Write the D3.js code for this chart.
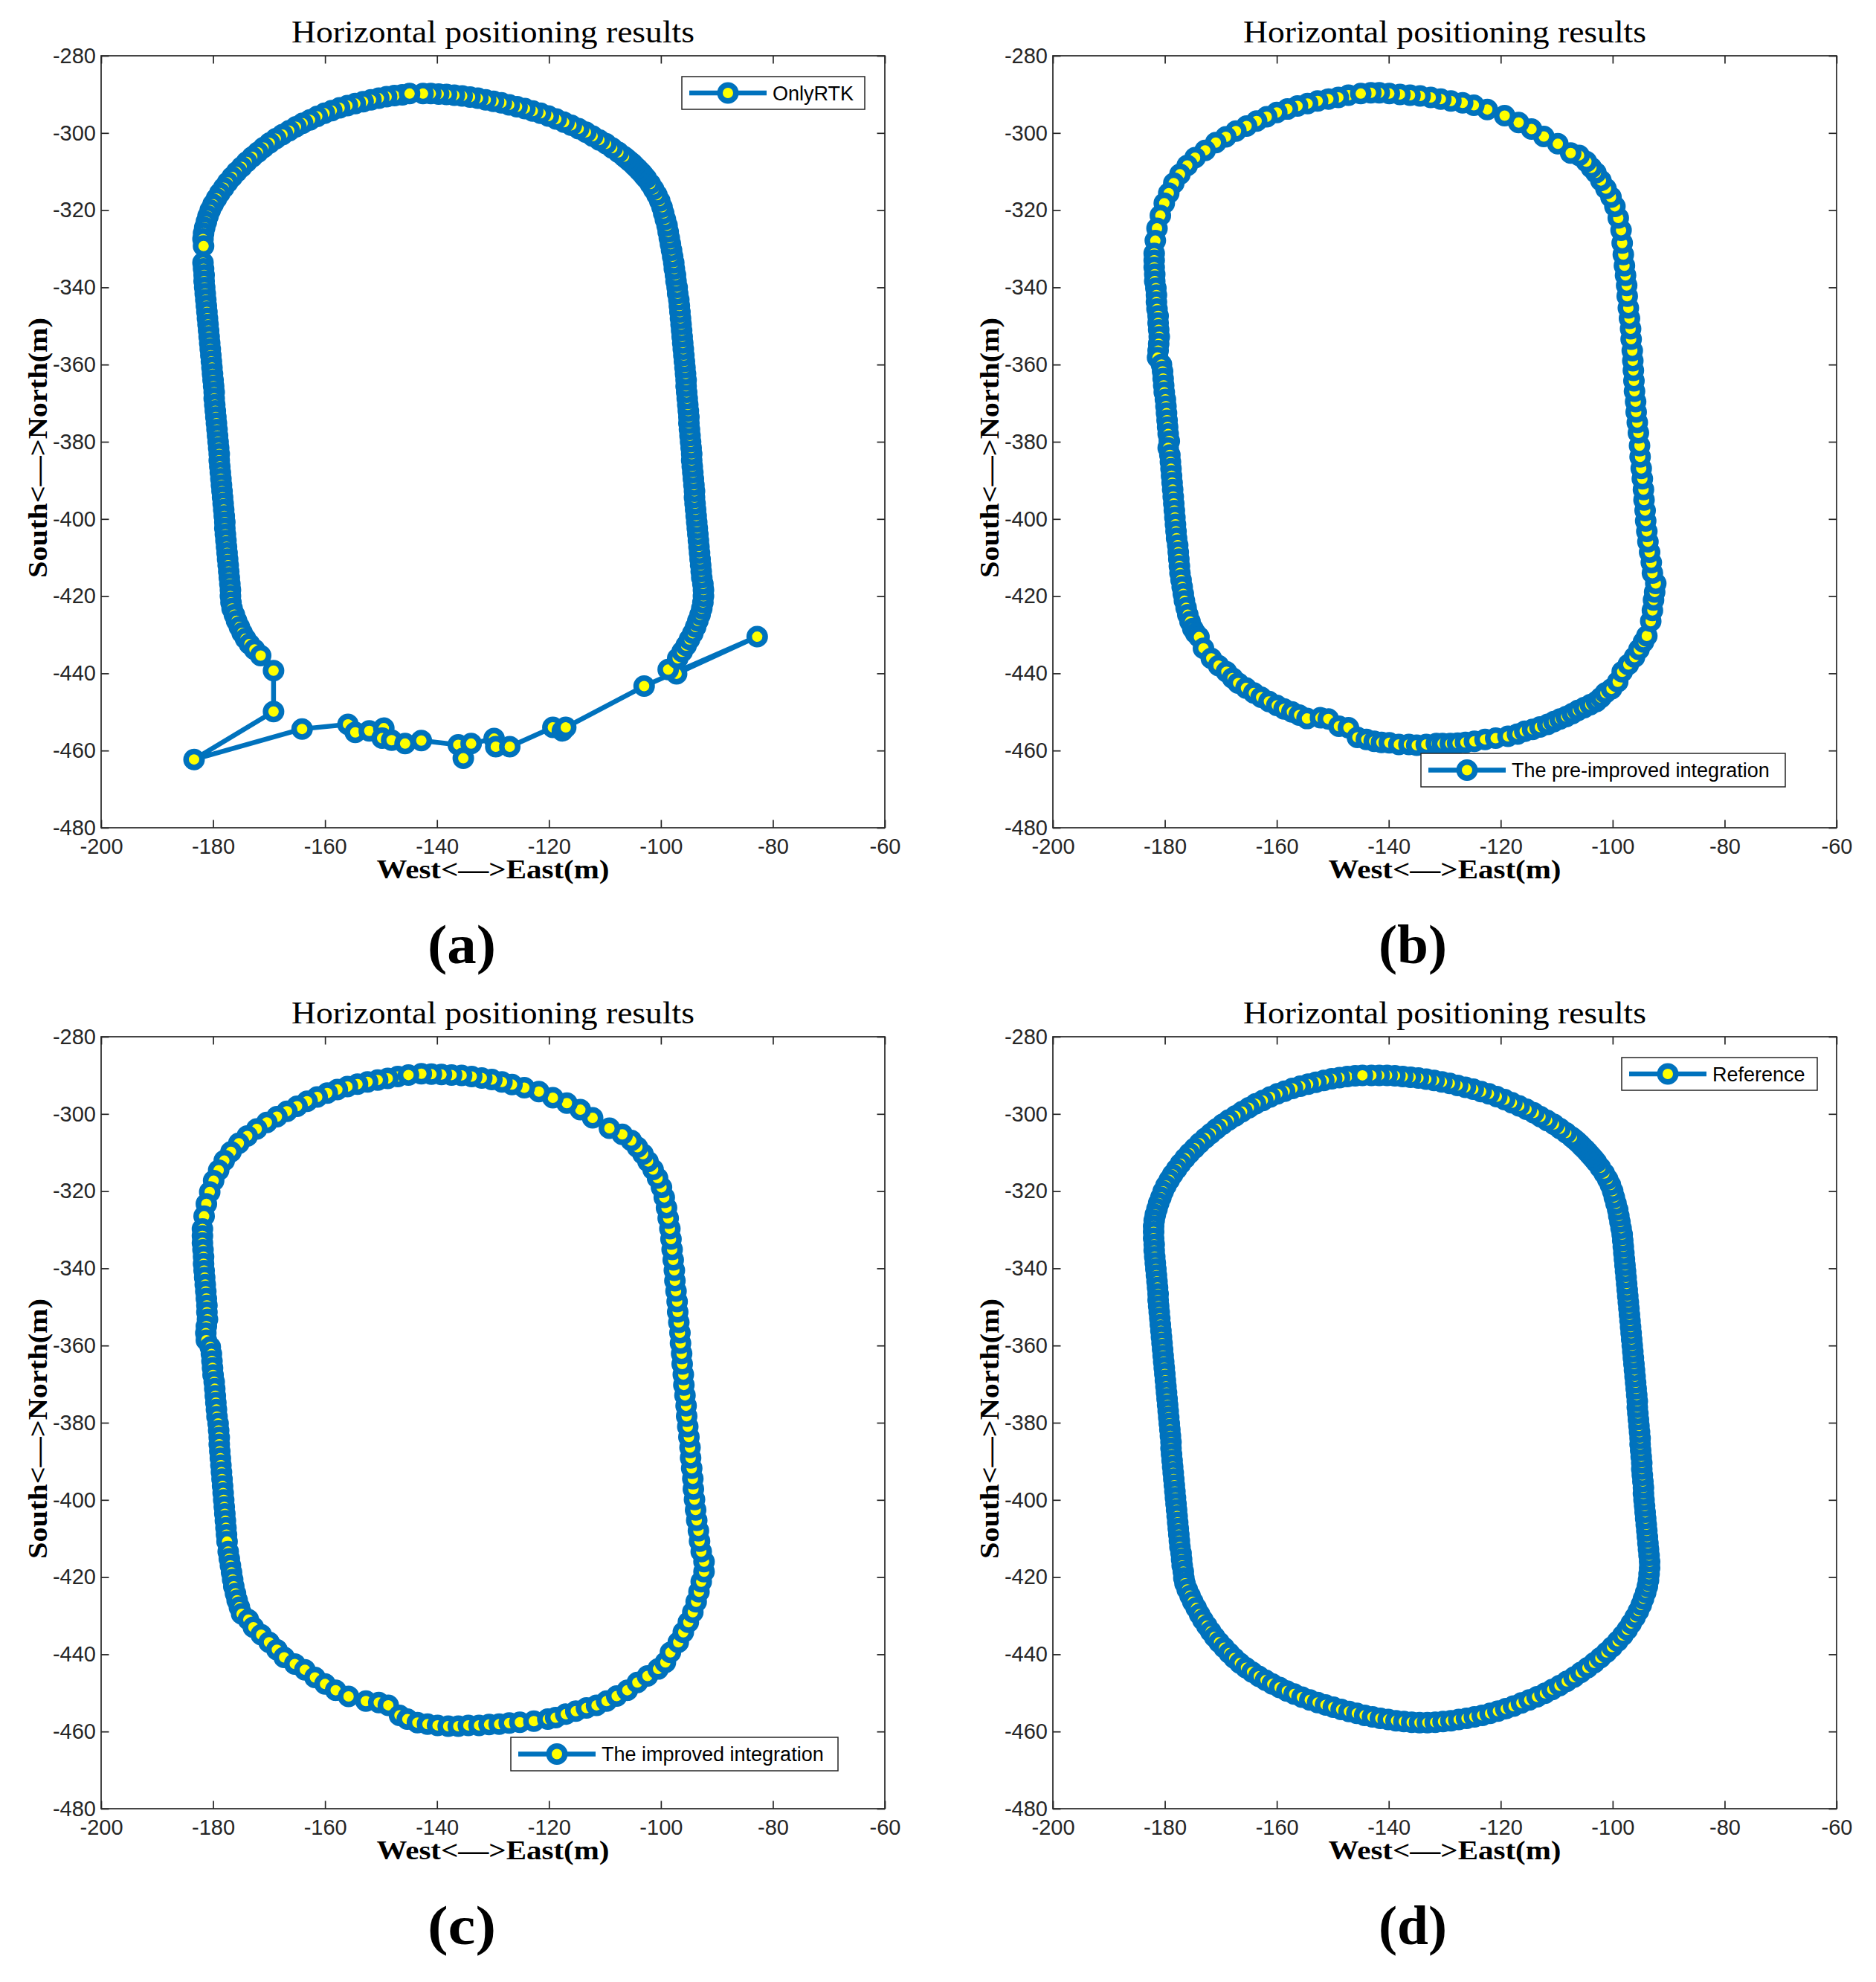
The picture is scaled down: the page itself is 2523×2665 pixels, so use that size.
<!DOCTYPE html>
<html><head><meta charset="utf-8">
<script src="https://cdn.jsdelivr.net/npm/d3@7"></script>
<style>html,body{margin:0;padding:0;background:#fff}</style>
</head><body>
<svg id="fig" width="2523" height="2665" xmlns="http://www.w3.org/2000/svg"></svg>
<script>
// ---------- data ----------
const xTicks = [-200,-180,-160,-140,-120,-100,-80,-60];
const yTicks = [-280,-300,-320,-340,-360,-380,-400,-420,-440,-460,-480];
const xDomain = [-200,-60];
const yDomain = [-480,-280];
const panelTitle = "Horizontal positioning results";
const xLabelText = "West<\u2014>East(m)";
const yLabelText = "South<\u2014>North(m)";
const legendLabels = ["OnlyRTK","The pre-improved integration","The improved integration","Reference"];
const panelLabels = ["(a)","(b)","(c)","(d)"];

const onlyRTK = [
[-146.2,-290.1],[-147.6,-290.3],[-149.0,-290.6],[-150.4,-291.0],[-151.8,-291.4],[-153.2,-291.9],[-154.6,-292.4],[-156.0,-292.9],[-157.4,-293.5],[-158.8,-294.2],[-160.1,-294.9],[-161.4,-295.7],[-162.7,-296.6],[-164.0,-297.5],[-165.2,-298.4],[-166.4,-299.4],[-167.6,-300.4],[-168.8,-301.5],[-169.9,-302.6],[-171.0,-303.8],[-172.0,-305.0],[-173.0,-306.2],[-174.0,-307.5],[-174.9,-308.8],[-175.8,-310.1],[-176.6,-311.4],[-177.4,-312.8],[-178.1,-314.2],[-178.8,-315.6],[-179.4,-317.0],[-180.0,-318.5],[-180.5,-320.0],[-180.9,-321.5],[-181.2,-323.0],[-181.5,-324.5],[-181.7,-326.0],[-181.8,-327.5],[-181.7,-329.3],
[-181.8,-333.6],[-181.7,-335.2],[-181.6,-336.8],[-181.6,-338.4],[-181.5,-340.0],[-181.4,-341.6],[-181.3,-343.2],[-181.2,-344.8],[-181.1,-346.4],[-181.0,-348.0],[-180.9,-349.6],[-180.8,-351.2],[-180.7,-352.8],[-180.6,-354.4],[-180.5,-356.0],[-180.4,-357.6],[-180.3,-359.2],[-180.2,-360.8],[-180.1,-362.4],[-180.0,-364.0],[-179.9,-365.6],[-179.8,-367.2],[-179.8,-368.8],[-179.7,-370.4],[-179.6,-372.0],[-179.5,-373.6],[-179.4,-375.2],[-179.3,-376.8],[-179.2,-378.4],[-179.1,-380.0],[-179.0,-381.6],[-178.9,-383.2],[-178.9,-384.8],[-178.8,-386.4],[-178.7,-388.0],[-178.6,-389.6],[-178.5,-391.2],[-178.4,-392.8],[-178.3,-394.4],[-178.2,-396.0],[-178.1,-397.6],[-178.0,-399.2],[-177.9,-400.8],[-177.9,-402.4],[-177.8,-404.0],[-177.7,-405.6],[-177.6,-407.2],[-177.5,-408.8],[-177.4,-410.4],[-177.3,-412.0],[-177.2,-413.6],[-177.1,-415.2],[-177.0,-416.8],[-176.9,-418.4],[-176.9,-420.0],
[-176.8,-421.6],[-176.6,-423.2],[-176.2,-424.8],[-175.8,-426.4],[-175.3,-428.0],[-174.8,-429.5],[-174.2,-431.0],[-173.5,-432.4],[-172.6,-433.8],[-171.5,-435.4],[-169.2,-439.3],[-169.2,-449.9],[-183.4,-462.3],[-164.1,-454.4],[-155.9,-453.2],[-154.6,-455.3],[-152.1,-454.9],[-149.5,-454.2],[-149.8,-456.8],[-148.1,-457.3],[-145.7,-458.2],[-142.8,-457.4],[-136.2,-458.5],[-135.3,-462.0],[-133.9,-458.2],[-129.8,-456.9],[-129.5,-459.0],[-127.0,-459.0],[-119.3,-454.0],[-117.6,-454.9],[-117.0,-454.0],[-103.0,-443.3],[-82.8,-430.5],[-97.2,-440.1],[-98.7,-439.0],[-97.0,-436.1],
[-96.2,-434.4],[-95.5,-432.8],[-94.9,-431.2],[-94.3,-429.6],[-93.8,-428.0],[-93.4,-426.4],[-93.0,-424.8],[-92.7,-423.2],[-92.5,-421.6],[-92.4,-420.0],[-92.4,-418.4],[-92.5,-416.8],[-92.7,-415.2],[-92.8,-413.6],[-92.9,-412.0],[-93.0,-410.4],[-93.1,-408.8],[-93.2,-407.2],[-93.3,-405.6],[-93.4,-404.0],[-93.5,-402.4],[-93.6,-400.8],[-93.7,-399.2],[-93.8,-397.6],[-93.9,-396.0],[-94.0,-394.4],[-94.0,-392.8],[-94.1,-391.2],[-94.2,-389.6],[-94.3,-388.0],[-94.4,-386.4],[-94.5,-384.8],[-94.5,-383.2],[-94.6,-381.6],[-94.7,-380.0],[-94.8,-378.4],[-94.9,-376.8],[-95.0,-375.2],[-95.0,-373.6],[-95.1,-372.0],[-95.2,-370.4],[-95.3,-368.8],[-95.4,-367.2],[-95.5,-365.6],[-95.5,-364.0],[-95.6,-362.4],[-95.7,-360.8],[-95.8,-359.2],[-95.9,-357.6],[-96.0,-356.0],[-96.1,-354.4],[-96.2,-352.8],[-96.3,-351.2],[-96.4,-349.6],[-96.5,-348.0],[-96.6,-346.4],[-96.7,-344.8],[-96.8,-343.2],[-97.0,-341.6],[-97.1,-340.0],[-97.3,-338.4],[-97.4,-336.8],[-97.6,-335.2],[-97.7,-333.6],[-97.9,-332.0],[-98.1,-330.4],[-98.3,-328.8],[-98.5,-327.2],[-98.7,-325.6],[-98.9,-324.0],[-99.2,-322.4],[-99.5,-320.8],[-99.8,-319.2],
[-100.2,-317.6],[-100.7,-316.1],[-101.3,-314.6],[-101.9,-313.2],[-102.6,-311.8],[-103.0,-311.1],[-103.4,-310.4],[-103.8,-309.8],[-104.2,-309.2],[-104.7,-308.5],[-105.1,-307.9],[-105.6,-307.3],[-106.1,-306.7],[-106.6,-306.1],[-107.6,-305.0],[-108.7,-303.9],[-109.8,-302.8],[-111.0,-301.8],[-112.2,-300.8],[-113.4,-299.8],[-114.7,-298.9],[-116.0,-298.0],[-117.3,-297.2],[-118.7,-296.4],[-120.1,-295.6],[-121.5,-294.9],[-122.9,-294.3],[-124.3,-293.7],[-125.7,-293.2],[-127.1,-292.7],[-128.5,-292.2],[-129.9,-291.8],[-131.3,-291.4],[-132.7,-291.0],[-134.1,-290.7],[-135.5,-290.4],[-136.9,-290.2],[-138.3,-290.0],[-139.7,-289.9],[-141.1,-289.8],[-142.5,-289.8],[-144.9,-289.8]
];

const preImproved = [
[-147.2,-290.2],[-149.0,-290.8],[-150.8,-291.2],[-152.7,-291.7],[-154.5,-292.4],[-156.3,-293.0],[-158.1,-293.8],[-160.0,-294.7],[-161.8,-295.8],[-163.6,-296.9],[-165.4,-298.2],[-167.3,-299.5],[-169.1,-301.0],[-170.9,-302.5],[-172.8,-304.5],[-174.6,-306.4],[-176.0,-308.4],[-177.3,-310.7],[-178.4,-313.0],[-179.3,-315.6],[-180.1,-318.2],[-180.8,-321.4],[-181.4,-324.7],[-181.7,-327.9],[-181.9,-331.2],
[-181.9,-333.0],[-181.9,-334.8],[-181.8,-336.6],[-181.8,-338.4],[-181.6,-340.2],[-181.5,-342.0],[-181.5,-343.8],[-181.4,-345.6],[-181.2,-347.4],[-181.2,-349.2],[-181.1,-351.0],[-181.0,-352.8],[-181.1,-354.6],[-181.2,-356.4],[-181.3,-358.2],[-180.6,-360.0],[-180.4,-361.8],[-180.3,-363.6],[-180.2,-365.4],[-180.1,-367.2],[-179.9,-369.0],[-179.8,-370.8],[-179.7,-372.6],[-179.6,-374.4],[-179.5,-376.2],[-179.4,-378.0],[-179.2,-379.8],[-179.4,-381.6],[-179.1,-383.4],[-179.0,-385.2],[-178.9,-387.0],[-178.8,-388.8],[-178.7,-390.6],[-178.6,-392.4],[-178.5,-394.2],[-178.4,-396.0],[-178.3,-397.8],[-178.2,-399.6],[-178.1,-401.4],[-178.0,-403.2],[-177.9,-405.0],[-177.7,-406.8],[-177.6,-408.6],[-177.5,-410.4],[-177.4,-412.2],[-177.3,-414.0],[-177.1,-415.8],[-176.9,-417.6],[-176.7,-419.4],[-176.5,-421.2],[-176.2,-423.0],[-175.9,-424.8],[-175.5,-426.6],[-175.0,-428.4],[-174.5,-429.6],
[-173.9,-430.6],[-173.1,-433.5],[-171.7,-436.1],[-170.4,-438.0],[-169.0,-439.6],[-167.9,-441.2],[-166.9,-442.5],[-165.5,-443.8],[-164.1,-445.1],[-162.8,-446.2],[-161.4,-447.3],[-160.0,-448.3],[-158.7,-449.2],[-157.3,-450.0],[-156.0,-450.8],[-154.6,-451.7],[-152.2,-451.5],[-150.8,-451.8],[-148.9,-453.7],[-147.2,-454.1],[-145.6,-456.6],[-144.0,-457.1],[-142.6,-457.6],[-141.3,-457.9],[-139.9,-458.0],[-138.2,-458.4],[-136.4,-458.4],[-135.0,-458.6],[-133.3,-458.4],[-131.5,-458.2],[-130.4,-458.2],[-129.0,-458.2],[-127.7,-458.1],[-126.3,-457.9],[-124.7,-457.6],[-122.8,-457.1],[-120.9,-456.8],[-118.7,-456.3],[-117.0,-455.7],[-115.7,-455.0],[-114.3,-454.5],[-113.0,-453.9],[-111.6,-453.2],[-110.5,-452.5],[-109.4,-451.8],[-108.3,-451.2],[-107.2,-450.4],[-106.2,-449.6],[-105.1,-448.9],[-104.0,-448.1],[-102.9,-447.3],[-102.1,-446.3],[-101.3,-445.1],[-100.2,-444.0],[-99.1,-442.2],[-98.3,-439.6],[-97.2,-437.7],[-96.1,-435.8],[-95.3,-433.8],[-94.5,-431.9],[-93.9,-430.3],
[-93.2,-426.5],[-92.9,-423.7],[-92.7,-421.0],[-92.5,-418.9],[-92.3,-416.7],[-92.9,-414.0],[-93.1,-411.3],[-93.4,-408.6],[-93.7,-405.9],[-93.9,-403.2],[-94.1,-400.5],[-94.2,-397.8],[-94.4,-395.1],[-94.5,-392.4],[-94.7,-389.6],[-94.9,-386.9],[-95.1,-383.9],[-95.2,-381.0],[-95.4,-377.7],[-95.6,-375.0],[-95.8,-372.3],[-95.9,-369.6],[-96.1,-366.9],[-96.2,-364.2],[-96.3,-361.5],[-96.4,-359.0],[-96.5,-356.4],[-96.7,-353.4],[-96.8,-350.7],[-97.0,-348.0],[-97.2,-345.3],[-97.4,-342.3],[-97.5,-339.5],[-97.7,-336.9],[-97.9,-334.4],[-98.1,-331.5],[-98.3,-328.5],[-98.5,-325.2],[-99.0,-322.0],[-99.6,-319.0],[-100.3,-316.6],[-101.2,-314.4],[-102.1,-312.3],[-103.0,-310.3],[-103.8,-309.0],[-104.7,-307.4],[-106.0,-305.8],[-107.5,-305.2],
[-109.8,-302.8],[-112.3,-300.9],[-114.5,-299.0],[-116.8,-297.3],[-119.3,-295.5],[-122.4,-293.9],[-124.8,-292.8],[-126.8,-292.2],[-128.9,-291.7],[-130.7,-291.2],[-132.5,-290.8],[-134.4,-290.4],[-136.2,-290.2],[-138.0,-290.0],[-139.9,-289.8],[-141.7,-289.6],[-143.2,-289.6],[-145.0,-289.8]
];

const improved = [
[-147.0,-290.3],[-148.8,-290.8],[-150.6,-291.2],[-152.4,-291.7],[-154.2,-292.3],[-156.0,-292.9],[-157.8,-293.7],[-159.6,-294.6],[-161.4,-295.6],[-163.2,-296.7],[-165.0,-298.0],[-166.8,-299.3],[-168.6,-300.7],[-170.4,-302.2],[-172.2,-303.9],[-173.9,-305.7],[-175.4,-307.6],[-176.8,-309.8],[-178.0,-312.1],[-179.0,-314.6],[-179.9,-317.3],[-180.6,-320.2],[-181.2,-323.3],[-181.6,-326.5],[-181.9,-329.8],
[-181.9,-331.6],[-181.9,-333.4],[-181.8,-335.2],[-181.7,-337.0],[-181.7,-338.8],[-181.6,-340.6],[-181.5,-342.4],[-181.4,-344.2],[-181.3,-346.0],[-181.2,-347.8],[-181.1,-349.6],[-181.1,-351.4],[-181.0,-353.2],[-181.2,-355.0],[-181.3,-356.8],[-181.2,-358.6],[-180.5,-360.4],[-180.3,-362.2],[-180.2,-364.0],[-180.1,-365.8],[-180.0,-367.6],[-179.8,-369.4],[-179.7,-371.2],[-179.6,-373.0],[-179.5,-374.8],[-179.4,-376.6],[-179.3,-378.4],[-179.1,-380.2],[-179.0,-382.0],[-178.9,-383.8],[-178.9,-385.6],[-178.8,-387.4],[-178.7,-389.2],[-178.6,-391.0],[-178.5,-392.8],[-178.4,-394.6],[-178.3,-396.4],[-178.2,-398.2],[-178.1,-400.0],[-178.0,-401.8],[-177.9,-403.6],[-177.8,-405.4],[-177.7,-407.2],[-177.6,-409.0],[-177.5,-410.8],[-177.3,-413.4],[-177.1,-415.2],[-176.9,-417.0],[-176.7,-418.8],[-176.5,-420.6],[-176.3,-422.4],[-176.0,-424.2],[-175.7,-426.0],[-175.3,-427.8],[-174.9,-429.5],
[-173.7,-431.0],[-172.8,-433.0],[-171.4,-434.9],[-170.0,-436.9],[-168.6,-438.8],[-167.3,-440.8],[-165.4,-442.5],[-163.6,-444.0],[-161.8,-446.0],[-160.0,-447.7],[-158.1,-449.3],[-155.8,-450.9],[-152.7,-452.1],[-150.4,-452.5],[-148.7,-453.2],[-146.7,-455.8],[-145.3,-456.8],[-143.5,-457.7],[-141.7,-458.1],[-139.9,-458.4],[-138.0,-458.6],[-136.2,-458.6],[-134.4,-458.4],[-132.5,-458.4],[-130.7,-458.2],[-128.9,-458.1],[-127.1,-457.8],[-125.2,-457.6],[-122.7,-457.3],[-120.2,-456.8],[-118.8,-456.4],[-117.0,-455.5],[-115.2,-454.7],[-113.3,-453.9],[-111.5,-453.2],[-109.7,-452.1],[-107.9,-450.8],[-106.0,-449.3],[-104.2,-447.3],[-102.4,-445.6],[-100.5,-443.8],[-99.2,-442.1],[-98.3,-439.5],[-96.9,-436.9],[-96.0,-434.3],[-95.1,-431.7],[-94.3,-429.1],[-93.7,-426.4],[-93.2,-423.8],[-92.8,-421.2],[-92.3,-418.6],[-92.3,-416.0],[-92.8,-413.4],
[-93.1,-410.7],[-93.3,-408.0],[-93.6,-405.3],[-93.8,-402.6],[-94.0,-399.9],[-94.2,-397.2],[-94.3,-394.5],[-94.5,-391.8],[-94.7,-389.1],[-94.8,-386.4],[-95.0,-383.7],[-95.2,-381.0],[-95.4,-378.3],[-95.5,-375.6],[-95.7,-372.9],[-95.9,-370.2],[-96.0,-367.5],[-96.2,-364.8],[-96.3,-362.1],[-96.5,-359.4],[-96.6,-356.7],[-96.8,-354.0],[-97.0,-351.3],[-97.1,-348.6],[-97.3,-345.9],[-97.5,-343.2],[-97.6,-340.5],[-97.8,-337.8],[-98.0,-335.1],[-98.2,-332.4],[-98.4,-329.7],[-98.7,-327.0],[-99.0,-324.3],[-99.4,-321.6],[-99.9,-319.0],[-100.6,-316.6],[-101.4,-314.4],[-102.3,-312.3],[-103.2,-310.4],[-104.2,-308.6],[-105.3,-306.9],[-106.9,-305.3],[-109.2,-303.7],
[-112.2,-301.0],[-114.4,-298.9],[-116.8,-297.2],[-119.3,-295.8],[-121.8,-294.2],[-124.4,-293.2],[-126.6,-292.4],[-128.4,-291.7],[-130.2,-291.1],[-132.0,-290.7],[-133.8,-290.3],[-135.6,-290.0],[-137.4,-289.9],[-139.2,-289.8],[-141.0,-289.7],[-142.8,-289.6],[-145.1,-289.9]
];

const reference = [
[-146.0,-290.1],[-147.4,-290.3],[-148.8,-290.6],[-150.2,-290.9],[-151.6,-291.3],[-153.0,-291.8],[-154.4,-292.3],[-155.8,-292.8],[-157.2,-293.4],[-158.6,-294.1],[-159.9,-294.8],[-161.2,-295.6],[-162.5,-296.5],[-163.8,-297.4],[-165.0,-298.4],[-166.2,-299.4],[-167.4,-300.5],[-168.6,-301.6],[-169.7,-302.7],[-170.8,-303.9],[-171.8,-305.1],[-172.8,-306.3],[-173.8,-307.6],[-174.7,-308.9],[-175.6,-310.2],[-176.4,-311.5],[-177.2,-312.9],[-177.9,-314.3],[-178.6,-315.7],[-179.2,-317.1],[-179.8,-318.6],[-180.3,-320.1],[-180.7,-321.6],[-181.1,-323.1],[-181.4,-324.6],[-181.7,-326.1],[-181.9,-327.6],[-182.0,-329.1],[-182.0,-330.6],
[-182.0,-332.2],[-181.9,-333.8],[-181.9,-335.4],[-181.8,-337.0],[-181.7,-338.6],[-181.6,-340.2],[-181.5,-341.8],[-181.4,-343.4],[-181.3,-345.0],[-181.2,-346.6],[-181.2,-348.2],[-181.1,-349.8],[-181.0,-351.4],[-180.9,-353.0],[-180.8,-354.6],[-180.7,-356.2],[-180.6,-357.8],[-180.5,-359.4],[-180.4,-361.0],[-180.3,-362.6],[-180.2,-364.2],[-180.1,-365.8],[-180.0,-367.4],[-179.9,-369.0],[-179.8,-370.6],[-179.7,-372.2],[-179.6,-373.8],[-179.5,-375.4],[-179.4,-377.0],[-179.3,-378.6],[-179.2,-380.2],[-179.1,-381.8],[-179.0,-383.4],[-178.9,-385.0],[-178.9,-386.6],[-178.8,-388.2],[-178.7,-389.8],[-178.6,-391.4],[-178.5,-393.0],[-178.4,-394.6],[-178.3,-396.2],[-178.2,-397.8],[-178.1,-399.4],[-178.0,-401.0],[-177.9,-402.6],[-177.8,-404.2],[-177.7,-405.8],[-177.6,-407.4],[-177.5,-409.0],[-177.4,-410.6],[-177.3,-412.2],[-177.1,-413.8],[-177.0,-415.4],[-176.9,-417.0],[-176.7,-418.6],[-176.6,-420.2],
[-176.4,-421.6],[-176.0,-423.2],[-175.5,-424.8],[-175.0,-426.4],[-174.4,-428.0],[-173.8,-429.6],[-173.2,-431.1],[-172.5,-432.6],[-171.8,-434.1],[-171.1,-435.5],[-170.3,-436.9],[-169.4,-438.3],[-168.5,-439.7],[-167.6,-441.0],[-166.6,-442.3],[-165.5,-443.5],[-164.4,-444.6],[-163.2,-445.7],[-162.0,-446.7],[-160.8,-447.7],[-159.5,-448.6],[-158.2,-449.5],[-156.9,-450.3],[-155.5,-451.1],[-154.1,-451.8],[-152.7,-452.5],[-151.3,-453.1],[-149.9,-453.7],[-148.5,-454.3],[-147.1,-454.8],[-145.7,-455.3],[-144.3,-455.8],[-142.9,-456.2],[-141.5,-456.6],[-140.1,-456.9],[-138.7,-457.2],[-137.3,-457.4],[-135.9,-457.6],[-134.5,-457.7],[-133.1,-457.7],
[-131.7,-457.6],[-130.3,-457.4],[-128.9,-457.2],[-127.5,-456.9],[-126.1,-456.6],[-124.7,-456.2],[-123.3,-455.8],[-121.9,-455.3],[-120.5,-454.7],[-119.1,-454.1],[-117.7,-453.4],[-116.3,-452.6],[-114.9,-451.8],[-113.5,-451.0],[-112.1,-450.1],[-110.8,-449.1],[-109.5,-448.1],[-108.2,-447.0],[-106.9,-445.9],[-105.7,-444.7],[-104.5,-443.5],[-103.3,-442.2],[-102.2,-440.9],[-101.1,-439.5],[-100.1,-438.1],[-99.1,-436.6],[-98.2,-435.1],[-97.4,-433.6],[-96.7,-432.0],[-96.0,-430.4],[-95.4,-428.8],[-94.9,-427.2],[-94.5,-425.6],[-94.1,-424.0],[-93.8,-422.4],[-93.6,-420.8],[-93.5,-419.2],[-93.4,-417.6],[-93.4,-416.0],
[-93.5,-414.4],[-93.6,-412.8],[-93.7,-411.2],[-93.8,-409.6],[-93.9,-408.0],[-94.0,-406.4],[-94.1,-404.8],[-94.2,-403.2],[-94.3,-401.6],[-94.4,-400.0],[-94.5,-398.4],[-94.5,-396.8],[-94.6,-395.2],[-94.7,-393.6],[-94.8,-392.0],[-94.8,-390.4],[-94.9,-388.8],[-95.0,-387.2],[-95.1,-385.6],[-95.1,-384.0],[-95.2,-382.4],[-95.3,-380.8],[-95.4,-379.2],[-95.5,-377.6],[-95.6,-376.0],[-95.6,-374.4],[-95.7,-372.8],[-95.8,-371.2],[-95.9,-369.6],[-96.0,-368.0],[-96.1,-366.4],[-96.2,-364.8],[-96.3,-363.2],[-96.4,-361.6],[-96.5,-360.0],[-96.6,-358.4],[-96.7,-356.8],[-96.8,-355.2],[-96.9,-353.6],[-97.0,-352.0],[-97.1,-350.4],[-97.2,-348.8],[-97.3,-347.2],[-97.4,-345.6],[-97.5,-344.0],[-97.6,-342.4],[-97.7,-340.8],[-97.8,-339.2],[-97.9,-337.6],[-98.0,-336.0],[-98.1,-334.4],[-98.2,-332.8],[-98.3,-331.2],[-98.5,-329.6],[-98.7,-328.0],[-98.9,-326.4],[-99.1,-324.8],[-99.4,-323.2],[-99.7,-321.6],[-100.0,-320.0],
[-100.4,-318.4],[-100.9,-316.9],[-101.5,-315.4],[-102.2,-313.9],[-102.9,-312.5],[-103.3,-311.8],[-103.7,-311.1],[-104.1,-310.5],[-104.5,-309.8],[-104.9,-309.2],[-105.4,-308.5],[-105.8,-307.9],[-106.3,-307.2],[-106.8,-306.6],[-107.3,-306.0],[-108.3,-304.9],[-109.4,-303.8],[-110.5,-302.7],[-111.7,-301.7],[-112.9,-300.7],[-114.1,-299.7],[-115.4,-298.8],[-116.7,-297.9],[-118.0,-297.1],[-119.3,-296.3],[-120.7,-295.5],[-122.1,-294.8],[-123.5,-294.2],[-124.9,-293.6],[-126.3,-293.1],[-127.7,-292.6],[-129.1,-292.1],[-130.5,-291.7],[-131.9,-291.3],[-133.3,-291.0],[-134.7,-290.7],[-136.1,-290.5],[-137.5,-290.3],[-138.9,-290.1],[-140.3,-290.0],[-141.7,-290.0],[-143.1,-290.0],[-144.7,-290.0]
];

const seriesList = [onlyRTK, preImproved, improved, reference];

// ---------- layout ----------
const W = 2523, H = 2665;
const PW = 1054, PH = 1038;
const BLUE = "#0072BD", YELLOW = "#FFFF00", AX = "#262626";
const SANS = "'Liberation Sans', Arial, Helvetica, sans-serif";
const SERIF = "'Liberation Serif', 'Times New Roman', serif";
const MR = 10.75, MSW = 7.5, LW = 6.5;
const layout = [
  {left:136,  top:75,   legend:[917,103,246,44],   labelX:621},
  {left:1416, top:75,   legend:[1911,1013,490,45], labelX:1900},
  {left:136,  top:1394, legend:[687,2336,440,45],  labelX:621},
  {left:1416, top:1394, legend:[2181,1422,263,44], labelX:1900}
];

const svg = d3.select("#fig");
svg.append("rect").attr("width",W).attr("height",H).attr("fill","#fff");

function styleAxis(sel){
  sel.select(".domain").remove();
  sel.selectAll(".tick line").attr("stroke",AX).attr("stroke-width",1.7);
  sel.selectAll(".tick text").attr("fill",AX).attr("font-family",SANS).attr("font-size",29);
  sel.attr("font-family",null).attr("font-size",null);
}

layout.forEach((p,i)=>{
  const data = seriesList[i];
  const x = d3.scaleLinear().domain(xDomain).range([p.left, p.left+PW]);
  const y = d3.scaleLinear().domain(yDomain).range([p.top+PH, p.top]);
  const g = svg.append("g");
  const fmt = d => String(d);

  g.append("g").attr("transform",`translate(0,${p.top+PH})`)
    .call(d3.axisBottom(x).tickValues(xTicks).tickFormat(fmt).tickSizeInner(-10.5).tickSizeOuter(0).tickPadding(14)).call(styleAxis);
  g.append("g").attr("transform",`translate(0,${p.top})`)
    .call(d3.axisTop(x).tickValues(xTicks).tickFormat("").tickSizeInner(-10.5).tickSizeOuter(0)).call(styleAxis);
  g.append("g").attr("transform",`translate(${p.left},0)`)
    .call(d3.axisLeft(y).tickValues(yTicks).tickFormat(fmt).tickSizeInner(-10.5).tickSizeOuter(0).tickPadding(7)).call(styleAxis);
  g.append("g").attr("transform",`translate(${p.left+PW},0)`)
    .call(d3.axisRight(y).tickValues(yTicks).tickFormat("").tickSizeInner(-10.5).tickSizeOuter(0)).call(styleAxis);

  g.append("rect").attr("x",p.left).attr("y",p.top).attr("width",PW).attr("height",PH)
    .attr("fill","none").attr("stroke",AX).attr("stroke-width",1.7);

  g.append("text").attr("x",p.left+PW/2).attr("y",p.top-18).attr("text-anchor","middle")
    .attr("font-family",SERIF).attr("font-size",42).attr("fill","#000")
    .attr("textLength",542).attr("lengthAdjust","spacingAndGlyphs").text(panelTitle);
  g.append("text").attr("x",p.left+PW/2).attr("y",p.top+PH+68).attr("text-anchor","middle")
    .attr("font-family",SERIF).attr("font-weight","bold").attr("font-size",35).attr("fill","#000")
    .attr("textLength",313).attr("lengthAdjust","spacingAndGlyphs").text(xLabelText);
  g.append("text").attr("transform",`translate(${p.left-73},${p.top+527}) rotate(-90)`).attr("text-anchor","middle")
    .attr("font-family",SERIF).attr("font-weight","bold").attr("font-size",35).attr("fill","#000")
    .attr("textLength",350).attr("lengthAdjust","spacingAndGlyphs").text(yLabelText);
  g.append("text").attr("x",p.labelX).attr("y",p.top+1220).attr("text-anchor","middle")
    .attr("font-family",SERIF).attr("font-weight","bold").attr("font-size",74).attr("fill","#000")
    .attr("textLength",92).attr("lengthAdjust","spacingAndGlyphs").text(panelLabels[i]);

  const clipId = "clip"+i;
  svg.append("clipPath").attr("id",clipId).append("rect")
    .attr("x",p.left).attr("y",p.top).attr("width",PW).attr("height",PH);
  const dg = g.append("g").attr("clip-path",`url(#${clipId})`);
  dg.append("path").datum(data)
    .attr("d", d3.line().x(d=>x(d[0])).y(d=>y(d[1])))
    .attr("fill","none").attr("stroke",BLUE).attr("stroke-width",LW).attr("stroke-linejoin","round");
  dg.selectAll("circle").data(data).join("circle")
    .attr("cx",d=>x(d[0])).attr("cy",d=>y(d[1])).attr("r",MR)
    .attr("fill",YELLOW).attr("stroke",BLUE).attr("stroke-width",MSW);

  const [lx,ly,lw,lh] = p.legend;
  const cy = ly+lh/2;
  const lg = g.append("g");
  lg.append("rect").attr("x",lx).attr("y",ly).attr("width",lw).attr("height",lh)
    .attr("fill","#fff").attr("stroke",AX).attr("stroke-width",1.5);
  lg.append("line").attr("x1",lx+10).attr("x2",lx+114).attr("y1",cy).attr("y2",cy)
    .attr("stroke",BLUE).attr("stroke-width",LW);
  lg.append("circle").attr("cx",lx+62).attr("cy",cy).attr("r",MR)
    .attr("fill",YELLOW).attr("stroke",BLUE).attr("stroke-width",MSW);
  lg.append("text").attr("x",lx+122).attr("y",cy+9.5)
    .attr("font-family",SANS).attr("font-size",27).attr("fill","#000").text(legendLabels[i]);
});
</script>
</body></html>
